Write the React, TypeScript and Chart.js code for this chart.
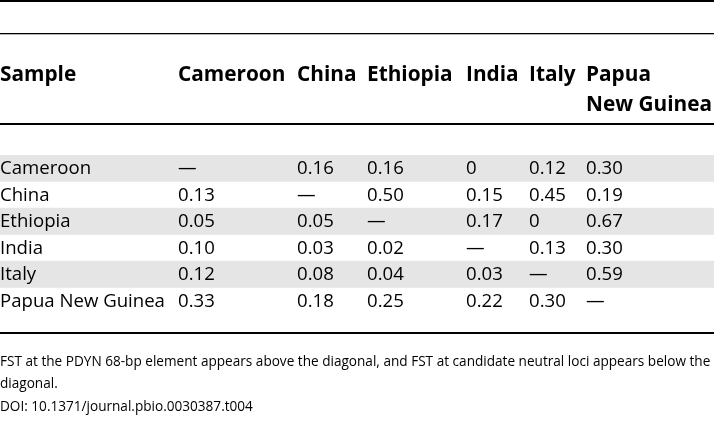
import React, { useEffect, useRef } from "react";
import { Chart, registerables } from "chart.js";

Chart.register(...registerables);

// ---- data ----
const samples = ["Cameroon", "China", "Ethiopia", "India", "Italy", "Papua New Guinea"];
const headerTitle = "Sample";
const headerColumns = ["Cameroon", "China", "Ethiopia", "India", "Italy", "Papua\nNew Guinea"];
// null marks the diagonal (—)
const cameroonRow = [null, 0.16, 0.16, 0, 0.12, 0.3];
const chinaRow = [0.13, null, 0.5, 0.15, 0.45, 0.19];
const ethiopiaRow = [0.05, 0.05, null, 0.17, 0, 0.67];
const indiaRow = [0.1, 0.03, 0.02, null, 0.13, 0.3];
const italyRow = [0.12, 0.08, 0.04, 0.03, null, 0.59];
const pngRow = [0.33, 0.18, 0.25, 0.22, 0.3, null];
const captionLines = [
  "FST at the PDYN 68-bp element appears above the diagonal, and FST at candidate neutral loci appears below the",
  "diagonal.",
  "DOI: 10.1371/journal.pbio.0030387.t004",
];

const rows = [cameroonRow, chinaRow, ethiopiaRow, indiaRow, italyRow, pngRow];

// ---- layout (styling only) ----
const W = 714;
const H = 424;
const COL_X = [0, 178, 297, 367, 466, 529, 586];
const FONT = '"Open Sans", "Noto Sans", sans-serif';

function fmt(v: number | null): string {
  if (v === null) return "\u2014";
  if (v === 0) return "0";
  return v.toFixed(2);
}

const tablePlugin = {
  id: "tablePlugin",
  afterDatasetsDraw(chart: any) {
    const ctx = chart.ctx as CanvasRenderingContext2D;
    const y = chart.scales.y;
    const left = chart.chartArea.left;
    ctx.save();
    ctx.fillStyle = "#000";
    // rules
    ctx.fillRect(0, 0, W, 2);
    ctx.fillRect(0, 33, W, 1.3);
    ctx.fillRect(0, 123, W, 2);
    ctx.fillRect(0, 332, W, 2);
    // header
    ctx.textBaseline = "middle";
    ctx.textAlign = "left";
    ctx.font = `bold 20.8px ${FONT}`;
    ctx.fillText(headerTitle, left + COL_X[0], 75.5);
    headerColumns.forEach((h, j) => {
      const parts = h.split("\n");
      parts.forEach((p, k) => ctx.fillText(p, left + COL_X[j + 1], 75.5 + k * 30));
    });
    // body
    ctx.font = `18.6px ${FONT}`;
    samples.forEach((s, i) => {
      const py = y.getPixelForValue(i) + 0.8;
      ctx.fillText(s, left + COL_X[0], py);
      rows[i].forEach((v, j) => {
        ctx.fillText(fmt(v), left + COL_X[j + 1], py);
      });
    });
    // caption
    ctx.font = `13.6px ${FONT}`;
    const capY = [362, 384, 407];
    captionLines.forEach((c, k) => ctx.fillText(c, 0, capY[k]));
    ctx.restore();
  },
};

export default function App() {
  const ref = useRef<HTMLCanvasElement | null>(null);
  useEffect(() => {
    document.body.style.margin = "0";
    const canvas = ref.current!;
    const chart = new Chart(canvas, {
      type: "bar",
      data: {
        labels: samples,
        datasets: [
          {
            data: samples.map((_, i) => (i % 2 === 0 ? [0, 1] : null)) as any,
            backgroundColor: "#e5e5e5",
            borderWidth: 0,
            barPercentage: 1,
            categoryPercentage: 1,
          },
        ],
      },
      options: {
        indexAxis: "y",
        responsive: false,
        animation: false,
        devicePixelRatio: 1,
        layout: { padding: { top: 155, bottom: H - 314, left: 0, right: 0 } },
        plugins: { legend: { display: false }, tooltip: { enabled: false }, title: { display: false } },
        scales: {
          x: { type: "linear", min: 0, max: 1, display: false },
          y: { type: "category", display: false },
        },
      },
      plugins: [tablePlugin],
    });
    return () => chart.destroy();
  }, []);
  return (
    <div style={{ width: W, height: H, background: "#fff" }}>
      <canvas ref={ref} width={W} height={H} style={{ display: "block" }} />
    </div>
  );
}
